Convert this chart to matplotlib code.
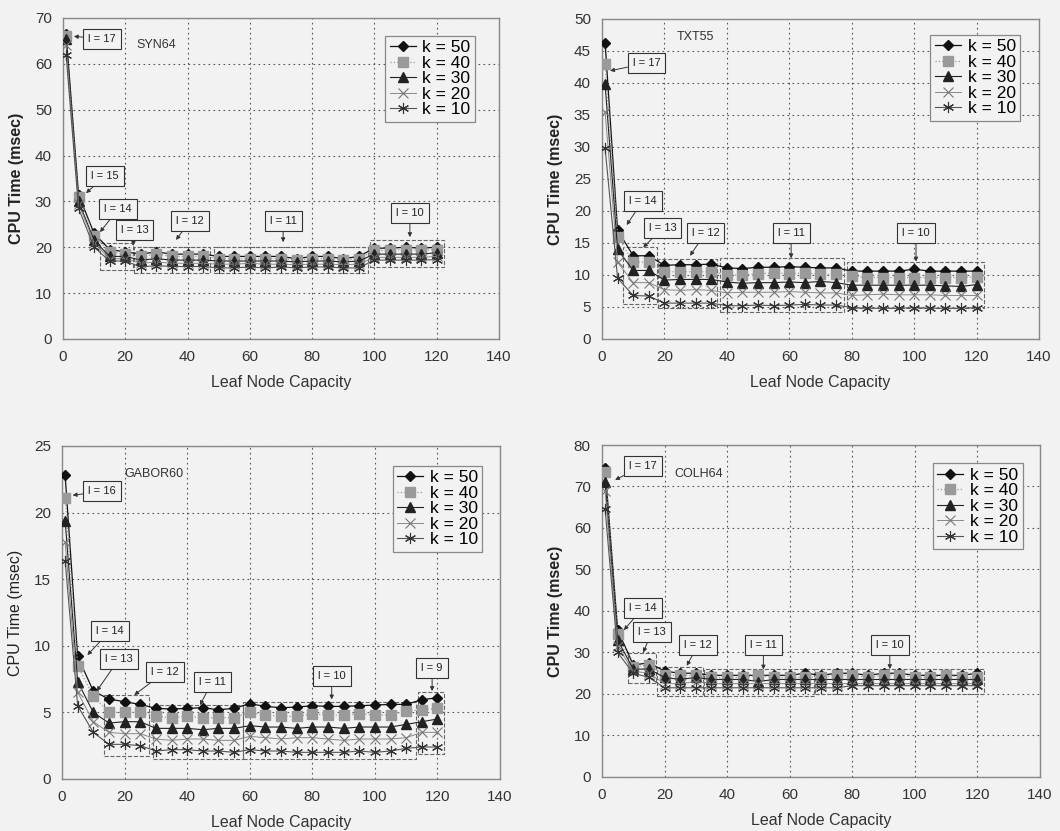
import numpy as np
import matplotlib
matplotlib.use("Agg")
from matplotlib import pyplot as plt
from matplotlib.patches import Rectangle

plt.rcParams['font.family'] = ['Liberation Sans', 'DejaVu Sans']

# leaf node capacity
cap = [1] + list(range(5, 125, 5))
k_labels = ["k = 50", "k = 40", "k = 30", "k = 20", "k = 10"]

# SYN64
syn_k50 = [66.5, 31.5, 23, 19.5, 19, 18.5, 19, 18.5, 18.5, 18.5, 18, 18, 18, 18, 18, 17.5, 18, 18, 17.5, 18, 19.8, 19.8, 20, 19.8, 20]
syn_k40 = [66, 31, 22.5, 19, 18.5, 18, 18.5, 18, 18, 18, 17.5, 17.5, 17.5, 17.5, 17.5, 17.2, 17.5, 17.5, 17.2, 17.5, 19.3, 19.3, 19.5, 19.3, 19.5]
syn_k30 = [65.5, 30, 21.5, 18, 18, 17.2, 17.5, 17.2, 17.2, 17.2, 17, 17, 17, 17, 17, 16.8, 17, 17, 16.8, 17, 18.5, 18.5, 18.5, 18.5, 18.8]
syn_k20 = [64, 29.5, 21, 17.5, 17.5, 16.5, 16.8, 16.5, 16.5, 16.5, 16.3, 16.3, 16.5, 16.3, 16.3, 16.2, 16.3, 16.3, 16.2, 16.3, 17.8, 17.8, 17.8, 17.8, 18]
syn_k10 = [62, 28.5, 20, 17, 17, 15.7, 16, 15.8, 15.8, 15.8, 15.5, 15.5, 15.7, 15.5, 15.7, 15.5, 15.7, 15.7, 15.5, 15.5, 17.2, 17.2, 17.2, 17.2, 17.3]

# TXT55
txt_k50 = [46.3, 17, 13, 13, 11.5, 11.6, 11.6, 11.7, 11.1, 11.0, 11.2, 11.2, 11.3, 11.2, 11.1, 11.1, 10.6, 10.6, 10.6, 10.6, 10.9, 10.6, 10.6, 10.6, 10.6]
txt_k40 = [43, 16, 12, 12, 10.5, 10.5, 10.5, 10.5, 10, 10, 10.2, 10.3, 10.2, 10.3, 10.1, 10.1, 9.8, 9.6, 9.6, 9.6, 9.6, 9.6, 9.6, 9.6, 9.7]
txt_k30 = [39.8, 14, 10.7, 10.7, 9.2, 9.3, 9.3, 9.3, 8.9, 8.7, 8.8, 8.8, 8.9, 8.8, 9.0, 8.8, 8.4, 8.4, 8.4, 8.4, 8.4, 8.4, 8.3, 8.2, 8.5]
txt_k20 = [35.5, 12, 8.8, 8.8, 7.7, 7.6, 7.7, 7.6, 7.2, 7.3, 7.3, 7.3, 7.4, 7.3, 7.2, 7.2, 6.8, 6.9, 7.0, 6.9, 6.9, 6.9, 6.8, 6.8, 6.8]
txt_k10 = [29.8, 9.5, 6.8, 6.7, 5.6, 5.6, 5.6, 5.6, 5.2, 5.2, 5.3, 5.2, 5.3, 5.4, 5.3, 5.3, 4.9, 4.8, 4.8, 4.8, 4.9, 4.8, 4.8, 4.8, 4.9]

# GABOR60
gab_k50 = [22.8, 9.2, 6.6, 6.0, 5.8, 5.6, 5.3, 5.25, 5.3, 5.35, 5.2, 5.3, 5.65, 5.45, 5.35, 5.4, 5.5, 5.45, 5.45, 5.5, 5.55, 5.6, 5.6, 5.95, 6.1]
gab_k40 = [21.1, 8.5, 6.2, 5.0, 5.0, 5.0, 4.7, 4.6, 4.7, 4.6, 4.6, 4.6, 5.0, 4.8, 4.7, 4.7, 4.9, 4.8, 4.8, 4.9, 4.8, 4.8, 5.1, 5.2, 5.3]
gab_k30 = [19.4, 7.3, 5.0, 4.2, 4.3, 4.3, 3.8, 3.8, 3.8, 3.7, 3.8, 3.8, 4.0, 3.9, 3.9, 3.8, 3.9, 3.9, 3.8, 3.9, 3.9, 3.9, 4.1, 4.3, 4.5]
gab_k20 = [17.8, 6.5, 4.3, 3.5, 3.4, 3.4, 3.0, 2.9, 3.0, 3.0, 2.9, 2.9, 3.2, 3.1, 3.0, 3.1, 3.1, 3.0, 2.9, 3.0, 3.0, 3.0, 3.1, 3.5, 3.5]
gab_k10 = [16.4, 5.5, 3.5, 2.6, 2.6, 2.5, 2.1, 2.2, 2.2, 2.1, 2.1, 2.0, 2.2, 2.1, 2.1, 2.0, 2.0, 2.0, 2.0, 2.1, 2.0, 2.1, 2.3, 2.4, 2.4]

# COLH64
col_k50 = [74.5, 35.5, 27, 27.5, 25.5, 25, 25, 24.5, 24.5, 24.5, 24.5, 24.5, 24.5, 25, 24.5, 25, 25, 24.5, 25, 25, 24.5, 24.5, 24.5, 24.5, 25]
col_k40 = [73.5, 34.5, 26.5, 27, 24.5, 24.5, 24.5, 24, 24, 24, 24.5, 24, 24, 24, 24, 24.5, 24.5, 24, 24.5, 24.5, 24, 24, 24.5, 24, 24]
col_k30 = [71, 33, 26, 26, 24, 23.5, 24, 23.5, 23.5, 23.5, 23, 23.5, 23.5, 23.5, 23.5, 23.5, 23.5, 23.5, 23.5, 23.5, 23.5, 23.5, 23.5, 23.5, 23.5]
col_k20 = [69, 31.5, 25.5, 25, 22.5, 22.5, 23, 22.5, 22.5, 22.5, 22.5, 22.5, 22.5, 22.5, 22.5, 22.5, 22.5, 22.5, 22.5, 22.5, 22.5, 22.5, 22.5, 22.5, 22.5]
col_k10 = [64.5, 30, 25, 24, 21.5, 21.5, 21.5, 21.5, 21.5, 21.5, 21.5, 21.5, 21.5, 21.5, 21.5, 21.5, 22, 22, 22, 22, 22, 22, 22, 22, 22]

BG = '#f2f2f2'
styles = [
    dict(marker='D', color='#111111', mfc='#111111', mec='#111111', ms=5, ls='-', lw=0.9),
    dict(marker='s', color='#9a9a9a', mfc='#9a9a9a', mec='#9a9a9a', ms=6.5, ls=':', lw=0.9),
    dict(marker='^', color='#222222', mfc='#222222', mec='#222222', ms=6.5, ls='-', lw=0.8),
    dict(marker='x', color='#888888', mfc='none', mec='#777777', ms=7, ls='-', lw=0.7, mew=0.8),
    dict(marker=(6, 2, 0), color='#555555', mfc='none', mec='#333333', ms=8, ls='-', lw=0.8, mew=0.8),
]

fig = plt.figure(figsize=(10.6, 8.31), dpi=100, facecolor=BG)


def panel(rect, series, ymax, ystep, name, name_xy, bold, legend_anchor, notes, boxes):
    ax = fig.add_axes(rect)
    ax.set_facecolor(BG)
    for ys, lab, st in zip(series, k_labels, styles):
        ax.plot(cap, ys, label=lab, zorder=3, **st)
    ax.set_xlim(0, 140)
    ax.set_ylim(0, ymax)
    ax.set_xticks(np.arange(0, 141, 20))
    ax.set_yticks(np.arange(0, ymax + 0.01, ystep))
    ax.grid(True, ls=(0, (1.5, 3)), color='#555555', lw=0.8)
    ax.tick_params(length=0, pad=8, labelsize=11, labelcolor='#333333')
    for s in ax.spines.values():
        s.set_color('#888888')
        s.set_linewidth(1.0)
    ax.set_xlabel("Leaf Node Capacity", fontsize=11.5, color='#333333', labelpad=8)
    ax.set_ylabel("CPU Time (msec)", fontsize=11.5, color='#222222',
                  fontweight='bold' if bold else 'normal', labelpad=8)
    ax.text(name_xy[0], name_xy[1], name, fontsize=9, color='#333333', ha='center', va='center')
    leg = ax.legend(loc='upper right', bbox_to_anchor=legend_anchor, fontsize=12.5,
                    frameon=True, fancybox=False, edgecolor='#888888', facecolor=BG,
                    framealpha=1, handlelength=1.5, handletextpad=0.4, labelspacing=0.02,
                    borderpad=0.25, borderaxespad=0)
    leg.get_frame().set_linewidth(0.9)
    for (x0, x1, y0, y1) in boxes:
        ax.add_patch(Rectangle((x0, y0), x1 - x0, y1 - y0, fill=False, ls='--',
                               ec='#666666', lw=0.8, zorder=2))
    for (txt, tip, pos) in notes:
        ax.annotate(txt, xy=tip, xytext=pos, ha='center', va='center', fontsize=8,
                    color='#222222', zorder=5,
                    bbox=dict(boxstyle='square,pad=0.45', fc=BG, ec='#333333', lw=0.8),
                    arrowprops=dict(arrowstyle='-|>', color='#333333', lw=0.7,
                                    mutation_scale=6, shrinkA=0, shrinkB=0))
    return ax


panel([0.0594, 0.5921, 0.4113, 0.3863],
      [syn_k50, syn_k40, syn_k30, syn_k20, syn_k10], 70, 10, "SYN64", (30, 64), True,
      (0.945, 0.944),
      [("l = 17", (3.5, 66), (12.5, 65.4)),
       ("l = 15", (7.4, 31.8), (13.5, 35.5)),
       ("l = 14", (11.9, 23.3), (17.7, 28.3)),
       ("l = 13", (22.5, 20.3), (23, 23.8)),
       ("l = 12", (36.3, 21.6), (40.8, 25.7)),
       ("l = 11", (70.7, 21.1), (70.7, 25.7)),
       ("l = 10", (111.4, 22.2), (111.4, 27.5))],
      [(11.9, 22.5, 15, 20.9), (22.8, 47.2, 14.4, 20), (48.5, 97.9, 14.4, 20),
       (98.6, 122.4, 15.7, 21.6)])

panel([0.5679, 0.5921, 0.4123, 0.3851],
      [txt_k50, txt_k40, txt_k30, txt_k20, txt_k10], 50, 5, "TXT55", (29.8, 47.2), True,
      (0.957, 0.95),
      [("l = 17", (2.6, 41.9), (14.3, 43.1)),
       ("l = 14", (7.9, 17.8), (13.1, 21.6)),
       ("l = 13", (13.2, 14.3), (19.4, 17.3)),
       ("l = 12", (28.2, 13), (33.2, 16.6)),
       ("l = 11", (60.6, 12.6), (60.6, 16.6)),
       ("l = 10", (100.6, 12.1), (100.6, 16.6))],
      [(6.8, 17.5, 5.5, 14.3), (18, 36.7, 4.8, 12.5), (37.8, 77.6, 4.2, 12.6),
       (78.4, 122.4, 4.8, 12.1)])

panel([0.0585, 0.0626, 0.4132, 0.4007],
      [gab_k50, gab_k40, gab_k30, gab_k20, gab_k10], 25, 5, "GABOR60", (29.4, 22.9), False,
      (0.96, 0.94),
      [("l = 16", (3.4, 21.3), (12.9, 21.6)),
       ("l = 14", (8.1, 9.3), (15.3, 11.1)),
       ("l = 13", (11.1, 6.6), (18.2, 9.0)),
       ("l = 12", (23.1, 6.3), (32.9, 8.05)),
       ("l = 11", (44.1, 5.55), (48, 7.3)),
       ("l = 10", (86.2, 5.97), (86.2, 7.7)),
       ("l = 9", (118.3, 6.6), (118.3, 8.3))],
      [(13.5, 27.9, 1.73, 6.3), (29.2, 57.7, 1.48, 5.55), (57.9, 113.1, 1.48, 5.8),
       (113.9, 122.2, 1.9, 6.5)])

panel([0.5679, 0.0650, 0.4132, 0.3995],
      [col_k50, col_k40, col_k30, col_k20, col_k10], 80, 10, "COLH64", (30.8, 72.9), True,
      (0.961, 0.945),
      [("l = 17", (4.2, 71.6), (13.2, 75)),
       ("l = 14", (7.0, 35.4), (13.2, 40.8)),
       ("l = 13", (13.2, 30.0), (15.9, 35)),
       ("l = 12", (27.1, 26.8), (30.6, 31.7)),
       ("l = 11", (51.6, 25.9), (51.6, 31.7)),
       ("l = 10", (92.0, 26), (92.0, 31.7))],
      [(8.2, 17.3, 22.6, 29.8), (17.5, 32.4, 19.6, 26.6), (32.7, 67.8, 19.6, 26),
       (68.1, 122, 19.9, 26)])

fig.savefig("out.png", dpi=100, facecolor=BG)
